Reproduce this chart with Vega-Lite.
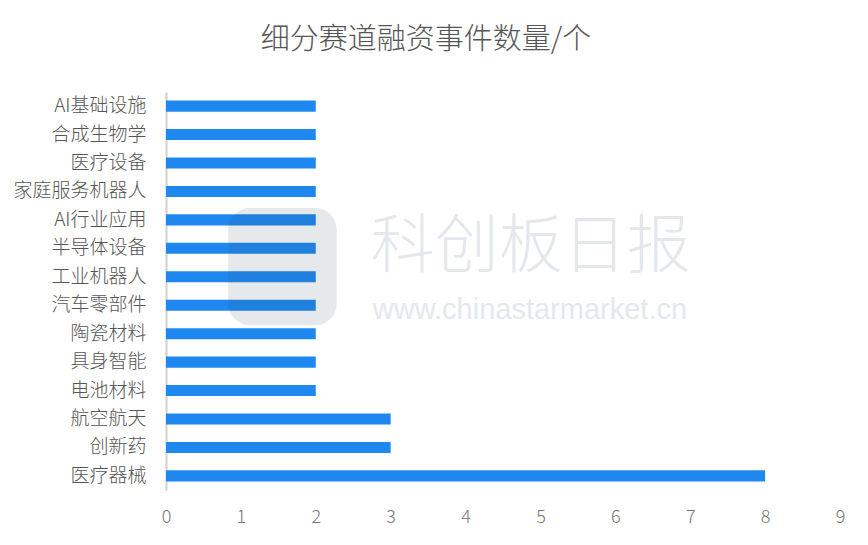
{
  "$schema": "https://vega.github.io/schema/vega-lite/v6.json",
  "width": 674,
  "height": 398,
  "autosize": {"type": "none"},
  "padding": {"left": 166, "top": 92, "right": 28, "bottom": 55},
  "background": "white",
  "title": {
    "text": "细分赛道融资事件数量/个",
    "font": "Noto Sans CJK SC",
    "fontSize": 29,
    "fontWeight": 300,
    "color": "#555555",
    "anchor": "middle",
    "dx": -77,
    "offset": 37
  },
  "config": {
    "view": {"stroke": null},
    "font": "Noto Sans CJK SC"
  },
  "data": {
    "values": [
      {"track": "AI基础设施", "count": 2},
      {"track": "合成生物学", "count": 2},
      {"track": "医疗设备", "count": 2},
      {"track": "家庭服务机器人", "count": 2},
      {"track": "AI行业应用", "count": 2},
      {"track": "半导体设备", "count": 2},
      {"track": "工业机器人", "count": 2},
      {"track": "汽车零部件", "count": 2},
      {"track": "陶瓷材料", "count": 2},
      {"track": "具身智能", "count": 2},
      {"track": "电池材料", "count": 2},
      {"track": "航空航天", "count": 3},
      {"track": "创新药", "count": 3},
      {"track": "医疗器械", "count": 8}
    ]
  },
  "encoding": {
    "y": {
      "field": "track",
      "type": "nominal",
      "sort": null,
      "scale": {"paddingInner": 0.61, "paddingOuter": 0.3},
      "axis": {
        "title": null,
        "ticks": false,
        "domain": true,
        "domainColor": "#d0d0d0",
        "domainWidth": 2,
        "labelFont": "Noto Sans CJK SC",
        "labelFontSize": 19,
        "labelFontWeight": 300,
        "labelColor": "#555555",
        "labelPadding": 20,
        "labelLimit": 200
      }
    }
  },
  "layer": [
    {
      "mark": {"type": "bar", "color": "#1e88f0"},
      "encoding": {
        "x": {
          "field": "count",
          "type": "quantitative",
          "scale": {"domain": [0, 9]},
          "axis": {
            "title": null,
            "grid": false,
            "domain": false,
            "ticks": false,
            "tickCount": 9,
            "labelFlush": false,
            "labelFont": "Noto Sans CJK SC",
            "labelFontSize": 18,
            "labelFontWeight": 300,
            "labelColor": "#777777",
            "labelPadding": 18
          }
        }
      }
    },
    {
      "data": {"values": [{"label": "logo"}]},
      "mark": {"type": "rect", "cornerRadius": 22, "fill": "#34495e", "fillOpacity": 0.12, "strokeWidth": 0, "yOffset": -12, "y2Offset": 20},
      "encoding": {
        "x": {"datum": 0.83},
        "x2": {"datum": 2.28},
        "y": {"datum": "AI行业应用"},
        "y2": {"datum": "汽车零部件"}
      }
    },
    {
      "data": {"values": [{"label": "科创板日报"}]},
      "mark": {"type": "text", "fontSize": 64, "font": "Noto Sans CJK SC", "fontWeight": 300, "color": "#e4e8ec"},
      "encoding": {
        "text": {"field": "label"},
        "x": {"datum": 4.87},
        "y": {"datum": "半导体设备"}
      }
    },
    {
      "data": {"values": [{"label": "www.chinastarmarket.cn"}]},
      "mark": {"type": "text", "fontSize": 29, "font": "Liberation Sans", "color": "#e4e8ec", "dy": 5},
      "encoding": {
        "text": {"field": "label"},
        "x": {"datum": 4.86},
        "y": {"datum": "汽车零部件"}
      }
    }
  ]
}
